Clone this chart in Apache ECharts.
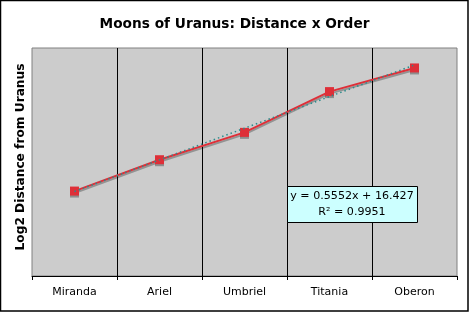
<!DOCTYPE html>
<html>
<head>
<meta charset="utf-8">
<script src="https://cdn.jsdelivr.net/npm/echarts@6/dist/echarts.min.js"></script>
<style>
html,body{margin:0;padding:0;background:#fff;}
#c{width:469px;height:312px;}
</style>
</head>
<body>
<div id="c"></div>
<script>
// Data
var moons = ['Miranda', 'Ariel', 'Umbriel', 'Titania', 'Oberon'];
var log2Distance = [16.99, 17.54, 18.02, 18.735, 19.15];
var trendCategories = ['Miranda', 'Oberon'];
var trendValues = [16.982, 19.203];
var equationLines = ['y = 0.5552x + 16.427', 'R\u00B2 = 0.9951'];
var chartTitle = 'Moons of Uranus: Distance x Order';
var yAxisTitle = 'Log2 Distance from Uranus';

var font = '"DejaVu Sans", Verdana, sans-serif';
var chart = echarts.init(document.getElementById('c'), null, {renderer: 'canvas'});
chart.setOption({
  animation: false,
  backgroundColor: '#ffffff',
  title: {
    text: chartTitle,
    left: 'center',
    top: 12,
    textStyle: {fontFamily: font, fontSize: 13.7, fontWeight: 'bold', color: '#000'}
  },
  grid: {
    left: 32, right: 12, top: 48, bottom: 36,
    show: true, backgroundColor: '#cccccc', borderColor: '#808080', borderWidth: 1
  },
  xAxis: {
    type: 'category',
    data: moons,
    boundaryGap: true,
    axisLine: {show: true, lineStyle: {color: '#000', width: 1}},
    axisTick: {show: true, length: 4, lineStyle: {color: '#000'}},
    axisLabel: {fontFamily: font, fontSize: 11, color: '#000', margin: 11},
    splitLine: {show: true, showMinLine: false, showMaxLine: false, lineStyle: {color: '#000', width: 1}}
  },
  yAxis: {
    type: 'value',
    min: 15.5, max: 19.5,
    name: yAxisTitle,
    nameLocation: 'middle',
    nameGap: 5,
    nameTextStyle: {fontFamily: font, fontSize: 12.2, fontWeight: 'bold', color: '#000', padding: [0, 0, 0, 10]},
    axisLine: {show: false},
    axisTick: {show: false},
    axisLabel: {show: false},
    splitLine: {show: false}
  },
  series: [
    {
      type: 'line',
      data: log2Distance,
      z: 2,
      symbol: 'rect',
      symbolSize: 9,
      lineStyle: {color: '#de2f38', width: 2, shadowColor: 'rgba(0,0,0,0.28)', shadowOffsetY: 2, shadowBlur: 0},
      itemStyle: {color: '#de2f38', shadowColor: 'rgba(0,0,0,0.3)', shadowOffsetY: 2, shadowBlur: 0}
    },
    {
      type: 'line',
      data: trendCategories.map(function (c, i) { return [c, trendValues[i]]; }),
      z: 3,
      symbol: 'none',
      lineStyle: {color: '#2a8c8c', width: 1.5, type: [1.5, 3]}
    }
  ],
  graphic: [
    {
      type: 'rect',
      shape: {x: 287.5, y: 186.5, width: 130, height: 36},
      style: {fill: '#ccffff', stroke: '#000', lineWidth: 1},
      z: 10
    },
    {
      type: 'text',
      x: 352, y: 196,
      style: {text: equationLines[0], fontFamily: font, fontSize: 11.1, fill: '#000', align: 'center', verticalAlign: 'middle'},
      z: 11
    },
    {
      type: 'text',
      x: 352, y: 212,
      style: {text: equationLines[1], fontFamily: font, fontSize: 11.1, fill: '#000', align: 'center', verticalAlign: 'middle'},
      z: 11
    },
    {
      type: 'rect',
      shape: {x: 0.5, y: 0.5, width: 467.5, height: 310.5},
      style: {fill: 'none', stroke: '#000', lineWidth: 1.5},
      z: 20
    }
  ]
});
</script>
</body>
</html>
